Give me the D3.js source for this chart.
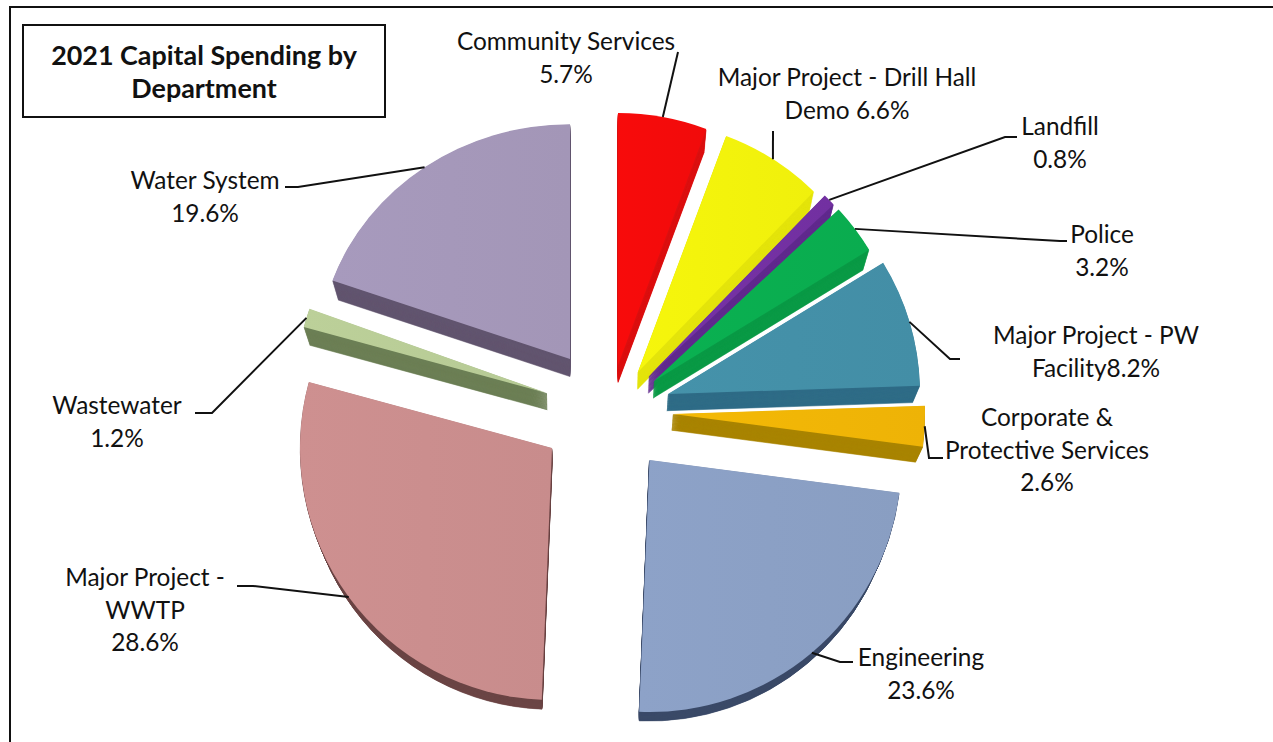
<!DOCTYPE html>
<html><head><meta charset="utf-8">
<script src="https://cdn.jsdelivr.net/npm/d3@7"></script>
<style>html,body{margin:0;padding:0;background:#fff}svg{display:block}text{font-family:Lato,"Open Sans",sans-serif;fill:#111}</style>
</head><body><svg id="c" width="1273" height="742"></svg>
<script>
const categories = ["Community Services","Major Project - Drill Hall Demo","Landfill","Police","Major Project - PW Facility","Corporate & Protective Services","Engineering","Major Project - WWTP","Wastewater","Water System"];
const values = [5.7,6.6,0.8,3.2,8.2,2.6,23.6,28.6,1.2,19.6];
const labelLines = [["Community Services","5.7%"],["Major Project - Drill Hall","Demo 6.6%"],["Landfill","0.8%"],["Police","3.2%"],["Major Project - PW","Facility8.2%"],["Corporate &","Protective Services","2.6%"],["Engineering","23.6%"],["Major Project -","WWTP","28.6%"],["Wastewater","1.2%"],["Water System","19.6%"]];
const titleLines = ["2021 Capital Spending by","Department"];

// styling and layout
const topColors  = ["#f40b0b","#f3f30c","#7431a3","#0aae50","#4490a8","#f1b606","#8ba0c5","#cb8e8e","#b9cd97","#a598ba"];
const wallColors = ["#dc1010","#e4e40c","#612a8e","#0a9a46","#2f6c87","#a98400","#3b4a68","#6b4545","#6c7f55","#62556f"];
const pullX = [8,28,39,44,58,63,39.5,-58,-63,-40];
const pullY = [-45,-38,-34,-29,-16,4,50,38,-17,-51];
const squash  = [1,1,1,1,1,1,1,1,1,0.932];
const vanishX = [620,620,620,620,620,620,640,555,555,570];
const labelAt = [[566,50],[847,86],[1060,135],[1102,243],[1096,344],[1047,426],[921,666],[145,586],[117,414],[205,189]];
const leaderEnd = [[[678,52]],[[773,131]],[[1005,137],[1017,137]],[[1060,241],[1067,241]],[[950,359],[960,359]],[[929,458],[943,458]],[[840,662],[853,662]],[[253,586],[237,586]],[[212,413],[195,413]],[[298,187],[285,187]]];
const cx = 610, cy = 410, R = 252, vy = 1090, depthScale = 0.024, lineGap = 32.5, fontSize = 24.4;

const svg = d3.select("#c");
svg.append("rect").attr("x",10).attr("y",7).attr("width",1290).attr("height",760).attr("fill","#fff").attr("stroke","#111").attr("stroke-width",2);

const defs = svg.append("defs");
topColors.forEach((c,i)=>{
  const g=defs.append("linearGradient").attr("id","top"+i);
  g.append("stop").attr("offset","0%").attr("stop-color",d3.color(c).brighter(0.04));
  g.append("stop").attr("offset","100%").attr("stop-color",d3.color(c).darker(0.04));
});

const arcs = d3.pie().value(d=>d).sort(null)(values);
const arc = d3.arc().innerRadius(0).outerRadius(R);
const apex = arcs.map((a,i)=>[cx+pullX[i],cy+pullY[i]]);
const place = (i)=>`translate(${apex[i][0]},${apex[i][1]}) scale(1,${squash[i]})`;

const slices = svg.selectAll("g.slice").data(arcs).join("g").attr("class","slice");
slices.each(function(a,i){
  const g=d3.select(this), vx=vanishX[i];
  d3.range(1,0,-0.05).forEach(t=>{
    const s=1-depthScale*t;
    g.append("path").attr("d",arc(a)).attr("fill",wallColors[i]).attr("stroke",wallColors[i]).attr("stroke-width",0.6)
     .attr("transform",`translate(${vx},${vy}) scale(${s}) translate(${-vx},${-vy}) ${place(i)}`);
  });
  g.append("path").attr("d",arc(a)).attr("fill",`url(#top${i})`).attr("transform",place(i));
});

const line = d3.line();
arcs.forEach((a,i)=>{
  const m=(a.startAngle+a.endAngle)/2;
  const start=[apex[i][0]+R*Math.sin(m),apex[i][1]-R*squash[i]*Math.cos(m)];
  svg.append("path").attr("d",line([start,...leaderEnd[i]])).attr("fill","none").attr("stroke","#111").attr("stroke-width",2);
});

labelLines.forEach((ls,i)=>{
  ls.forEach((s,j)=>svg.append("text").attr("x",labelAt[i][0]).attr("y",labelAt[i][1]+j*lineGap)
    .attr("text-anchor","middle").attr("font-size",fontSize).text(s));
});

svg.append("rect").attr("x",23).attr("y",25).attr("width",362).attr("height",92).attr("fill","#fff").attr("stroke","#111").attr("stroke-width",2);
titleLines.forEach((s,j)=>svg.append("text").attr("x",204).attr("y",65+j*33).attr("text-anchor","middle").attr("font-size",26.9).attr("font-weight",700).text(s));
</script></body></html>
